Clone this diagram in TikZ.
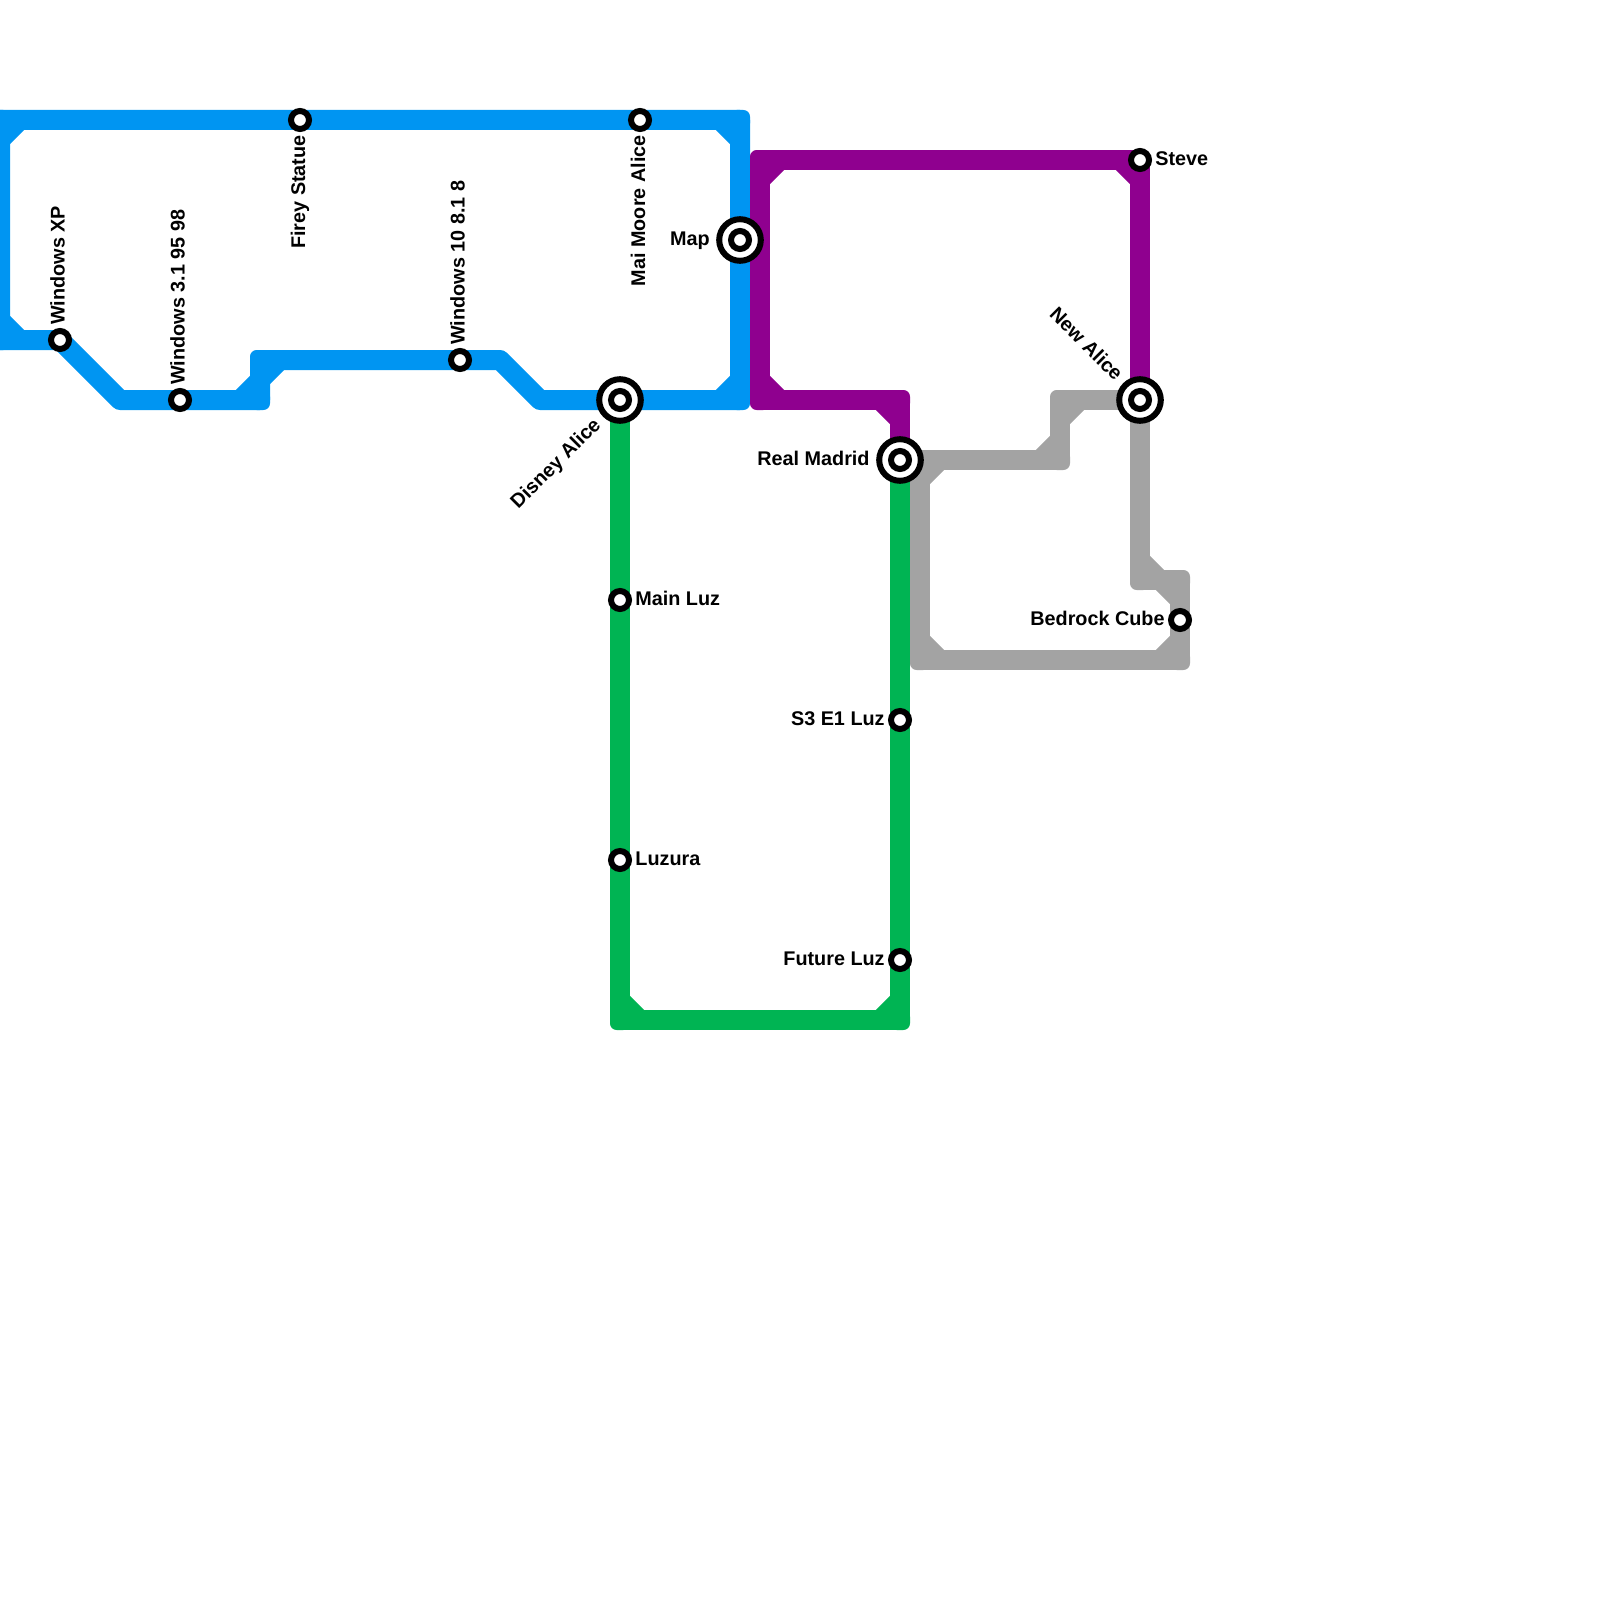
\documentclass[tikz,border=0pt]{standalone}
\usepackage{fontspec}
\setmainfont{Liberation Sans}
\usetikzlibrary{
	positioning,
	calc,
	backgrounds
}
\definecolor{LineBlue}{RGB}{0,149,242}
\definecolor{LinePurple}{RGB}{143,0,143}
\definecolor{LineGreen}{RGB}{0,180,83}
\definecolor{LineGrey}{RGB}{163,163,163}
\newcommand{\linecorner}[4]{
	\fill[#1, rounded corners=3.33pt] ($(#3)+(-5pt,-5pt)$) rectangle ($(#3)+(5pt,5pt)$);
	\draw[#1, line width=10pt] ($(#3)!10pt!(#2)$) -- ($(#3)!10pt!(#4)$);
}

\begin{document}
\begin{tikzpicture}[
				x=0.5pt,
				y=-0.5pt,
				every node/.style={
					font=\bfseries\fontsize{9.9pt}{12pt}\selectfont
				},
				stop/.style={
					circle,
					draw=black,
					fill=white,
					line width=3pt,
					minimum size=9pt,
					inner sep=0pt
				},
				hub/.style={
					circle,
					draw=black,
					fill=white,
					line width=3pt,
					minimum size=20.8pt,
					inner sep=0pt,
					path picture={
						\draw[black, line width=3pt] (path picture bounding box.center) circle (4.5pt);
					}
				},
				stoplabel/.style={
					inner sep=0pt
				},
				metro/.style={
					line width=10pt,
					line join=round
				}
				]
				
				\useasboundingbox (0,0) rectangle (1600,1600);
				\clip (0,0) rectangle (1600,1600);
				
				\node[stop] (XP) at (60,340) {};
				\node[stop] (W31) at (180,400) {};
				\node[stop] (Firey) at (300,120) {};
				\node[stop] (W10) at (460,360) {};
				\node[stop] (Mai) at (640,120) {};
				\node[hub] (Map) at (740,240) {};
				\node[hub] (Disney) at (620,400) {};
				\node[stop] (MainLuz) at (620,600) {};
				\node[stop] (Luzura) at (620,860) {};
				\node[hub] (Madrid) at (900,460) {};
				\node[stop] (S3) at (900,720) {};
				\node[stop] (Future) at (900,960) {};
				\node[stop] (Steve) at (1140,160) {};
				\node[hub] (NewAlice) at (1140,400) {};
				\node[stop] (Bedrock) at (1180,620) {};
				
				\node[stoplabel, rotate=90, anchor=base west] (XPt) at ($(XP)+(4.5,-15)$) {Windows XP};
				\node[stoplabel, rotate=90, anchor=base west] (W31t) at ($(W31)+(4.5,-15)$) {Windows 3.1 95 98};
				\node[stoplabel, rotate=90, anchor=base east] (Fireyt) at ($(Firey)+(5,15)$) {Firey Statue};
				\node[stoplabel, rotate=90, anchor=base west] (W10t) at ($(W10)+(4.5,-15)$) {Windows 10 8.1 8};
				\node[stoplabel, rotate=90, anchor=base east] (Mait) at ($(Mai)+(5,15)$) {Mai Moore Alice};
				\node[stoplabel, anchor=base east] (Mapt) at ($(Map)+(-30,5)$) {Map};
				\node[stoplabel, rotate=45, anchor=base east] (Disneyt) at ($(Disney)+(-18,26)$) {Disney Alice};
				\node[stoplabel, anchor=base west] (MainLuzt) at ($(MainLuz)+(15,5)$) {Main Luz};
				\node[stoplabel, anchor=base west] (Luzurat) at ($(Luzura)+(15,5)$) {Luzura};
				\node[stoplabel, anchor=base east] (Madridt) at ($(Madrid)+(-30,5)$) {Real Madrid};
				\node[stoplabel, anchor=base east] (S3t) at ($(S3)+(-15,5)$) {S3 E1 Luz};
				\node[stoplabel, anchor=base east] (Futuret) at ($(Future)+(-15,5)$) {Future Luz};
				\node[stoplabel, anchor=base west] (Stevet) at ($(Steve)+(15,5)$) {Steve};
				\node[stoplabel, rotate=-45, anchor=base east] (NewAlicet) at ($(NewAlice)+(-25,-18)$) {New Alice};
				\node[stoplabel, anchor=base east] (Bedrockt) at ($(Bedrock)+(-15,5)$) {Bedrock Cube};
				
				\coordinate (B1) at (0,120);
				\coordinate (B2) at (0,340);
				\coordinate (B3) at (120,400);
				\coordinate (B4) at (260,400);
				\coordinate (B5) at (260,360);
				\coordinate (B6) at (500,360);
				\coordinate (B7) at (540,400);
				\coordinate (B8) at (740,400);
				\coordinate (B9) at (740,120);
				
				\coordinate (P1) at (900,400);
				\coordinate (P2) at (760,400);
				\coordinate (P3) at (760,160);
				\coordinate (P4) at (1140,160);
				
				\coordinate (G1) at (620,1020);
				\coordinate (G2) at (900,1020);
				
				\coordinate (A1) at (920,460);
				\coordinate (A2) at (1060,460);
				\coordinate (A3) at (1060,400);
				\coordinate (A4) at (1140,580);
				\coordinate (A5) at (1180,580);
				\coordinate (A6) at (1180,660);
				\coordinate (A7) at (920,660);
				
				\begin{scope}[on background layer]
					
					\draw[metro, LineBlue] (B1) -- (B2) -- (XP.center) -- (B3) -- (W31.center) -- (B4) -- (B5) -- (W10.center) -- (B6) -- (B7) -- (Disney.center) -- (B8) -- (Map.center) -- (B9) -- (Mai.center) -- (Firey.center) -- (B1);
					\linecorner{LineBlue}{B2}{B1}{Firey}
					\linecorner{LineBlue}{B1}{B2}{XP}
					\linecorner{LineBlue}{W31}{B4}{B5}
					\linecorner{LineBlue}{B4}{B5}{W10}
					\linecorner{LineBlue}{Disney}{B8}{Map}
					\linecorner{LineBlue}{Map}{B9}{Mai}
					
					\draw[metro, LinePurple] (Madrid.center) -- (P1) -- (P2) -- (P3) -- (P4) -- (NewAlice.center);
					\linecorner{LinePurple}{Madrid}{P1}{P2}
					\linecorner{LinePurple}{P1}{P2}{P3}
					\linecorner{LinePurple}{P2}{P3}{P4}
					\linecorner{LinePurple}{P3}{P4}{NewAlice}
					
					\draw[metro, LineGreen] (Disney.center) -- (MainLuz.center) -- (Luzura.center) -- (G1) -- (G2) -- (Future.center) -- (S3.center) -- (Madrid.center);
					\linecorner{LineGreen}{Luzura}{G1}{G2}
					\linecorner{LineGreen}{G1}{G2}{Future}
					
					\draw[metro, LineGrey] (Madrid.center) -- (A1) -- (A2) -- (A3) -- (NewAlice.center) -- (A4) -- (A5) -- (Bedrock.center) -- (A6) -- (A7) -- (A1);
					\linecorner{LineGrey}{A2}{A1}{A7}
					\linecorner{LineGrey}{A1}{A2}{A3}
					\linecorner{LineGrey}{A2}{A3}{NewAlice}
					\linecorner{LineGrey}{NewAlice}{A4}{A5}
					\linecorner{LineGrey}{A4}{A5}{A6}
					\linecorner{LineGrey}{A5}{A6}{A7}
					\linecorner{LineGrey}{A6}{A7}{A1}
					
				\end{scope}
				
			\end{tikzpicture}
\end{document}
